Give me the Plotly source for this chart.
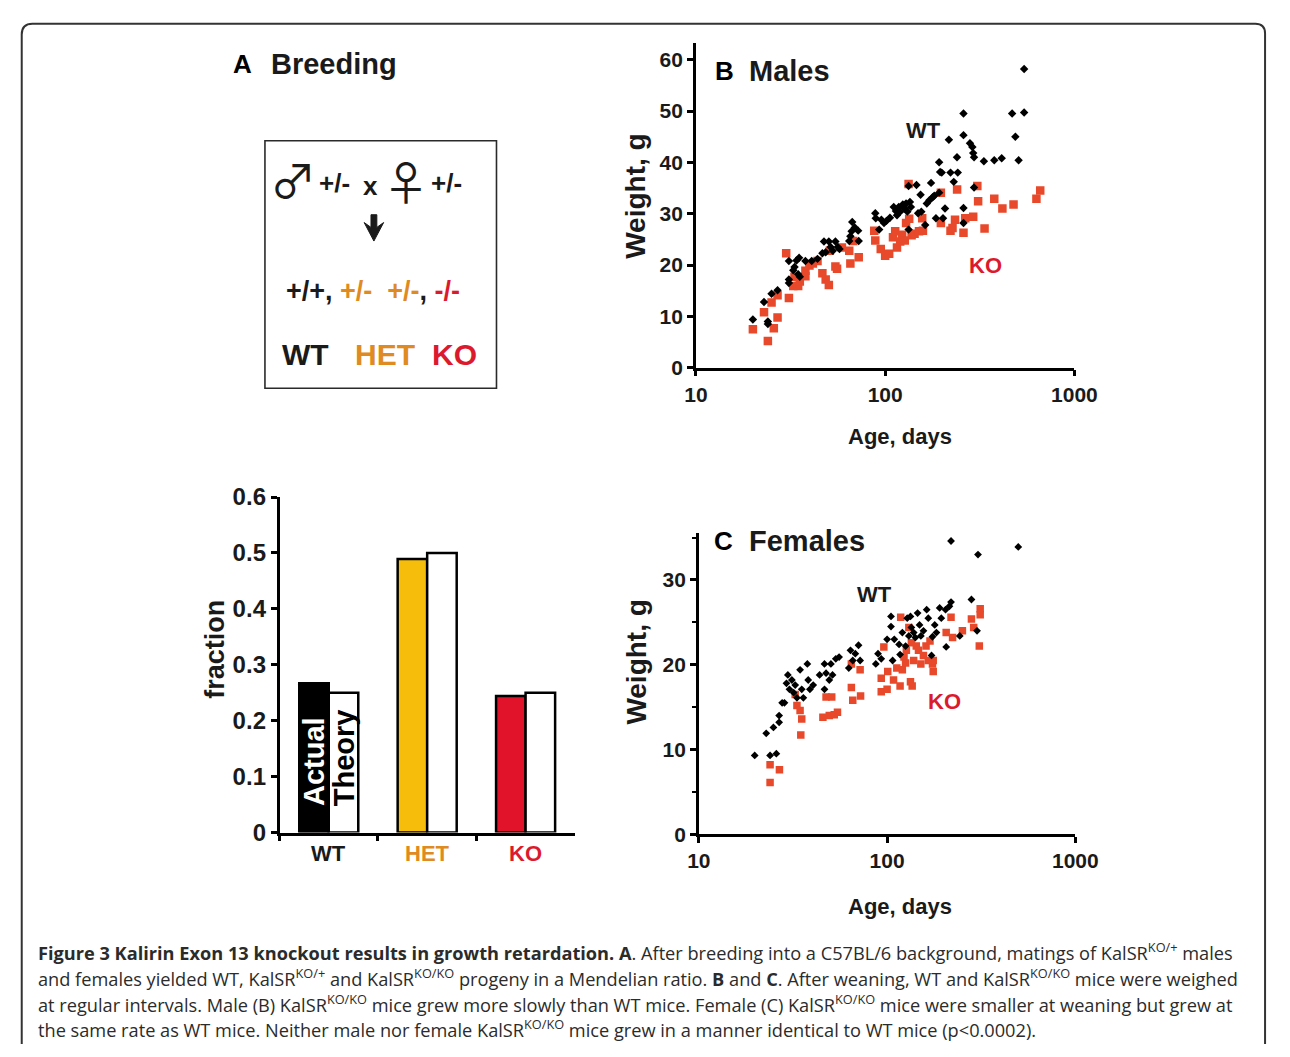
import plotly.graph_objects as go

W, H = 1290, 1057

# ---------------- data ----------------
bar_categories = ["WT", "HET", "KO"]
bar_actual = [0.267, 0.489, 0.244]
bar_theory = [0.25, 0.50, 0.25]
bar_actual_colors = ["#000000", "#f6bd0a", "#e0132b"]
bar_label_colors = ["#1a1a1a", "#e08a22", "#dc1a2e"]

males_wt_age = [20.0, 22.9, 24.0, 24.0, 25.1, 27.0, 31.0, 31.0, 31.0, 32.7, 33.2, 34.0, 34.7, 35.1, 35.4,
                37.9, 40.9, 43.9, 46.6, 47.5, 48.5, 50.4, 51.5, 52.9, 54.6, 56.2, 57.4, 64.6, 65.5, 66.5,
                67.0, 69.1, 72.0, 72.5, 88.7, 89.2, 93.0, 95.5, 98.6, 101.6, 106.0, 111.0, 114.0, 115.5,
                118.0, 120.1, 124.0, 127.0, 129.0, 131.0, 133.0, 133.0, 135.2, 136.8, 146.4, 149.3, 153.9,
                155.3, 162.8, 166.0, 171.4, 174.8, 178.3, 181.8, 185.5, 192.9, 192.9, 195.2, 199.1, 202.2,
                207.2, 217.2, 221.5, 230.4, 239.7, 242.0, 259.4, 259.4, 259.4, 259.4, 280.7, 289.0, 292.0,
                295.0, 295.0, 332.5, 377.3, 413.0, 468.8, 487.6, 507.3, 542.5, 542.5]
males_wt_weight = [9.4, 12.8, 9.0, 8.5, 14.4, 15.1, 16.5, 17.2, 20.8, 19.0, 19.6, 20.9, 18.2, 21.4, 17.7,
                   20.8, 20.8, 21.2, 22.3, 24.6, 22.5, 24.6, 23.5, 22.8, 24.6, 23.5, 23.1, 24.7, 25.6, 26.6,
                   28.4, 27.3, 26.7, 24.7, 30.1, 29.1, 26.9, 28.8, 28.2, 28.6, 29.2, 31.3, 30.5, 29.7,
                   31.3, 30.4, 31.8, 31.0, 32.0, 30.4, 35.4, 26.9, 32.3, 31.3, 35.6, 30.1, 33.7,
                   30.4, 27.8, 32.0, 32.6, 36.0, 33.2, 33.5, 29.1, 34.1, 40.0, 38.1, 38.0, 29.1,
                   31.0, 44.4, 38.0, 36.2, 41.0, 38.0, 49.5, 45.3, 31.1, 28.2, 43.7, 43.0, 41.8,
                   41.0, 35.1, 40.2, 40.4, 40.8, 49.5, 45.0, 40.4, 58.2, 49.7]

males_ko_age = [20.0, 22.9, 24.0, 25.1, 25.8, 27.0, 27.0, 31.0, 30.0, 32.7, 33.2, 34.7, 35.4, 37.9, 37.9,
                39.8, 41.5, 43.9, 46.6, 48.5, 50.4, 51.0, 54.6, 55.7, 59.1, 64.6, 65.5, 67.8, 72.5, 87.6,
                88.7, 94.8, 100.0, 105.0, 110.0, 113.0, 115.5, 120.1, 123.0, 127.0, 129.0, 133.0, 134.0,
                138.0, 143.0, 151.0, 157.0, 158.4, 197.0, 197.0, 221.5, 227.0, 234.0, 240.0, 259.4, 265.0,
                292.0, 307.0, 310.0, 335.2, 377.3, 416.5, 477.0, 630.2, 660.0]
males_ko_weight = [7.5, 10.8, 5.2, 12.7, 7.7, 9.8, 14.1, 13.6, 22.3, 15.9, 17.7, 15.9, 16.8, 17.8, 18.9,
                   19.9, 20.3, 20.8, 18.4, 17.2, 16.1, 22.8, 19.7, 19.3, 23.4, 22.8, 20.3, 24.7, 21.5, 26.7,
                   24.8, 23.1, 21.8, 22.2, 25.4, 26.6, 23.4, 24.6, 25.9, 24.8, 28.2, 35.8, 29.0,
                   25.8, 26.1, 26.6, 29.1, 26.7, 28.2, 34.1, 26.7, 27.2, 28.8, 34.7, 26.3, 29.1,
                   29.4, 35.4, 32.4, 27.1, 32.9, 31.0, 31.8, 32.9, 34.5]

females_wt_age = [19.8, 22.8, 23.9, 24.9, 25.8, 26.7, 26.7, 27.7, 28.5, 29.2, 29.7, 30.3, 31.2, 31.9, 32.5,
                  33.2, 34.5, 35.2, 35.9, 37.7, 38.1, 38.9, 40.5, 43.8, 46.5, 46.5, 47.4, 49.3, 50.3, 51.3,
                  53.4, 55.6, 62.6, 63.9, 65.7, 67.8, 70.5, 71.9, 87.1, 89.5, 93.1, 100.0, 104.9, 104.9,
                  107.0, 109.2, 115.8, 117.2, 120.5, 125.4, 127.9, 130.5, 133.1, 134.6, 138.4, 141.3, 145.2,
                  148.7, 151.1, 156.0, 162.3, 165.5, 172.2, 174.2, 179.1, 182.8, 190.2, 194.0, 204.4, 206.0,
                  214.3, 218.6, 218.6, 243.3, 280.6, 300.5, 304.0, 497.5]
females_wt_weight = [9.3, 11.9, 9.3, 12.6, 9.5, 14.0, 13.2, 15.5, 15.5, 17.8, 18.8, 17.1, 18.2, 16.7, 17.6,
                     16.1, 19.4, 17.1, 16.1, 20.1, 18.2, 17.1, 17.6, 18.8, 20.1, 17.1, 19.0, 18.2, 20.1, 18.8,
                     20.7, 20.9, 19.6, 21.7, 20.5, 21.3, 22.3, 20.5, 20.1, 21.3, 20.7, 23.0, 25.7, 24.5,
                     20.5, 23.0, 22.4, 21.2, 23.8, 22.2, 25.5, 23.4, 25.7, 24.4, 23.8, 23.2, 26.1,
                     24.7, 23.4, 24.0, 26.5, 25.5, 21.1, 23.3, 24.7, 23.8, 26.7, 25.5, 26.5, 22.1,
                     26.9, 34.6, 27.4, 23.4, 27.7, 24.0, 33.0, 33.9]

females_ko_age = [23.9, 23.9, 26.8, 32.5, 33.2, 34.5, 35.2, 34.8, 45.6, 47.4, 49.3, 50.8, 52.4, 54.5, 64.6,
                  64.6, 65.7, 71.9, 72.3, 93.1, 93.1, 96.1, 100.0, 100.8, 108.2, 112.6, 117.2, 118.1, 120.5,
                  123.0, 125.4, 126.6, 130.5, 133.1, 134.6, 135.9, 138.4, 142.9, 146.8, 151.1, 156.0, 161.0,
                  165.5, 169.0, 174.2, 175.8, 175.8, 206.0, 218.6, 222.8, 251.2, 280.6, 288.4, 308.9, 312.3,
                  312.3]
females_ko_weight = [8.2, 6.1, 7.6, 16.5, 15.2, 14.6, 13.6, 11.7, 13.8, 16.2, 14.0, 16.2, 14.1, 14.4, 20.1,
                     17.3, 15.8, 19.4, 16.3, 18.4, 16.8, 22.1, 17.1, 19.2, 18.2, 19.6, 17.5, 25.6, 19.4,
                     20.9, 20.2, 21.7, 24.4, 18.0, 22.6, 17.5, 20.5, 22.2, 21.7, 20.1, 21.1, 22.2,
                     20.5, 22.8, 20.1, 20.5, 19.2, 23.8, 25.6, 23.2, 24.0, 25.4, 24.4, 22.2, 26.6,
                     25.9]

# ---------------- styling helpers ----------------
COND = "Liberation Sans, Arial, sans-serif"
ARIAL = "Liberation Sans, Arial, sans-serif"
CAP = "Open Sans, Lato, sans-serif"
SYM = "Noto Sans CJK JP, DejaVu Sans, sans-serif"
ORANGE = "#e08a22"
RED = "#dc1a2e"
SQ = "#e8492b"
INK = "#1a1a1a"


def X(px):
    return px / W


def Y(py):
    return 1 - py / H


fig = go.Figure()

fig.add_trace(go.Bar(x=bar_categories, y=bar_actual, name="Actual",
                     marker=dict(color=bar_actual_colors, line=dict(color="black", width=2.5)),
                     xaxis="x3", yaxis="y3", showlegend=False))
fig.add_trace(go.Bar(x=bar_categories, y=bar_theory, name="Theory",
                     marker=dict(color="white", line=dict(color="black", width=2.5)),
                     xaxis="x3", yaxis="y3", showlegend=False))

fig.add_trace(go.Scatter(x=males_ko_age, y=males_ko_weight, mode="markers",
                         marker=dict(symbol="square", size=8.5, color=SQ),
                         xaxis="x", yaxis="y", showlegend=False))
fig.add_trace(go.Scatter(x=males_wt_age, y=males_wt_weight, mode="markers",
                         marker=dict(symbol="diamond", size=6.5, color="black"),
                         xaxis="x", yaxis="y", showlegend=False))
fig.add_trace(go.Scatter(x=females_ko_age, y=females_ko_weight, mode="markers",
                         marker=dict(symbol="square", size=7.5, color=SQ),
                         xaxis="x2", yaxis="y2", showlegend=False))
fig.add_trace(go.Scatter(x=females_wt_age, y=females_wt_weight, mode="markers",
                         marker=dict(symbol="diamond", size=6.0, color="black"),
                         xaxis="x2", yaxis="y2", showlegend=False))

axis_common = dict(showline=True, linecolor="black", linewidth=2.5, ticks="outside",
                   tickwidth=2.5, ticklen=6, tickcolor="black", showgrid=False, zeroline=False,
                   tickfont=dict(family=COND, size=21, color=INK, weight="bold"))
axis_nofont = {k: v for k, v in axis_common.items() if k != "tickfont"}

fig.update_layout(
    width=W, height=H, autosize=False,
    margin=dict(l=0, r=0, t=0, b=0),
    paper_bgcolor="white", plot_bgcolor="rgba(0,0,0,0)",
    barmode="group", bargap=0.4, bargroupgap=0.0,
    xaxis=dict(domain=[X(703), X(1092)], type="log", range=[1, 3],
               tickvals=[10, 100, 1000], ticktext=["10", "100", "1000"], anchor="y", **axis_common),
    yaxis=dict(domain=[Y(363), Y(30)], range=[0, 63.2], tickvals=[0, 10, 20, 30, 40, 50, 60],
               anchor="x", **axis_common),
    xaxis2=dict(domain=[X(706), X(1093)], type="log", range=[1, 3],
                tickvals=[10, 100, 1000], ticktext=["10", "100", "1000"], anchor="y2", **axis_common),
    yaxis2=dict(domain=[Y(841.7), Y(533)], range=[0, 35.5], tickvals=[0, 10, 20, 30],
                minor=dict(tickvals=[5, 15, 25, 35], ticks="outside", ticklen=4, tickwidth=2, tickcolor="black"),
                anchor="x2", **axis_common),
    xaxis3=dict(domain=[X(275), X(578.5)], type="category", tickson="boundaries",
                showticklabels=False, anchor="y3", range=[-0.5, 2.5], **axis_nofont),
    yaxis3=dict(domain=[Y(840), Y(495.7)], range=[0, 0.6], tickvals=[0, 0.1, 0.2, 0.3, 0.4, 0.5, 0.6],
                ticktext=["0", "0.1", "0.2", "0.3", "0.4", "0.5", "0.6"], anchor="x3", **axis_nofont,
                tickfont=dict(family=COND, size=24, color=INK, weight="bold")),
)

ann = []


def txt(x, y, s, size, family=COND, color=INK, bold=True, angle=0, xanchor="center", yanchor="middle"):
    ann.append(dict(x=X(x), y=Y(y), xref="paper", yref="paper", text=s, showarrow=False,
                    textangle=angle, xanchor=xanchor, yanchor=yanchor,
                    font=dict(family=family, size=size, color=color, weight="bold" if bold else "normal")))


# Panel titles
txt(237, 51, "A", 26, family=ARIAL, color="black")
txt(264, 51, "Breeding", 29, xanchor="left")
txt(732, 58, "B", 26, family=ARIAL, color="black")
txt(756, 58, "Males", 29, xanchor="left")
txt(731, 541, "C", 26, family=ARIAL, color="black")
txt(756, 541, "Females", 29, xanchor="left")

# Series labels inside panels B and C
txt(937, 120, "WT", 22)
txt(1001, 258, "KO", 22, color=RED)
txt(887, 596, "WT", 22)
txt(958, 706, "KO", 22, color=RED)

# Axis titles
txt(641, 187, "Weight, g", 28, angle=-90)
txt(913, 434, "Age, days", 22)
txt(641, 665, "Weight, g", 28, angle=-90)
txt(913, 916, "Age, days", 22)

# Bar chart text
txt(209, 652, "fraction", 27, family=ARIAL, angle=-90)
txt(311, 767, "Actual", 29, family=ARIAL, color="white", angle=-90)
txt(341, 763, "Theory", 29, family=ARIAL, color="black", angle=-90)
for cat, col in zip(bar_categories, bar_label_colors):
    ann.append(dict(x=cat, y=Y(862), xref="x3", yref="paper", text=cat, showarrow=False,
                    xanchor="center", yanchor="middle",
                    font=dict(family=COND, size=22, color=col, weight="bold")))

# Breeding scheme
txt(289, 168, "\u2642", 46, family=SYM, bold=False)
txt(331, 173, "+/-", 26)
txt(369, 176, "x", 26)
txt(405, 170, "\u2640", 46, family=SYM, bold=False)
txt(447, 173, "+/-", 26)
txt(371, 284, "+/+, <span style='color:%s'>+/-</span>  <span style='color:%s'>+/-</span>, "
              "<span style='color:%s'>-/-</span>" % (ORANGE, ORANGE, RED), 27)
txt(302, 349, "WT", 30)
txt(383, 349, "HET", 30, color=ORANGE)
txt(455, 349, "KO", 30, color=RED)

# Caption
cap_lines = [
    "<b>Figure 3 Kalirin Exon 13 knockout results in growth retardation. A</b>. After breeding into a "
    "C57BL/6 background, matings of KalSR<sup>KO/+</sup> males",
    "and females yielded WT, KalSR<sup>KO/+</sup> and KalSR<sup>KO/KO</sup> progeny in a Mendelian ratio. "
    "<b>B</b> and <b>C</b>. After weaning, WT and KalSR<sup>KO/KO</sup> mice were weighed",
    "at regular intervals. Male (B) KalSR<sup>KO/KO</sup> mice grew more slowly than WT mice. Female (C) "
    "KalSR<sup>KO/KO</sup> mice were smaller at weaning but grew at",
    "the same rate as WT mice. Neither male nor female KalSR<sup>KO/KO</sup> mice grew in a manner "
    "identical to WT mice (p&lt;0.0002).",
]
for i, line in enumerate(cap_lines):
    txt(25, 962 + i * 26.5, line, 18.2, family=CAP, color="#2b2b2b", bold=False, xanchor="left")

fig.update_layout(annotations=ann)

# Shapes: breeding box, arrow, outer rounded frame
shapes = [
    dict(type="rect", xref="paper", yref="paper", x0=X(260), x1=X(498), y0=Y(384), y1=Y(130),
         line=dict(color="#2a2a2a", width=1.6), fillcolor="rgba(0,0,0,0)"),
]
arrow_pts = [(369, 206), (375, 206), (375, 219), (382, 214), (372, 233), (362, 214), (369, 219)]
path = "M " + " L ".join("%.5f,%.5f" % (X(a), Y(b)) for a, b in arrow_pts) + " Z"
shapes.append(dict(type="path", xref="paper", yref="paper", path=path,
                   fillcolor="#1a1a1a", line=dict(color="#1a1a1a", width=1)))
frame = ("M %f,%f L %f,%f Q %f,%f %f,%f L %f,%f Q %f,%f %f,%f L %f,%f" % (
    X(10), Y(1057), X(10), Y(21), X(10), Y(10), X(21), Y(10), X(1278), Y(10),
    X(1288), Y(10), X(1288), Y(20), X(1288), Y(1057)))
shapes.append(dict(type="path", xref="paper", yref="paper", path=frame,
                   line=dict(color="#333333", width=2)))
fig.update_layout(shapes=shapes)

fig.write_html("out.html", config={"displayModeBar": False},
               post_script="document.documentElement.style.margin='0';document.body.style.margin='0';"
                           "document.body.style.overflow='hidden';document.documentElement.style.overflow='hidden';")
